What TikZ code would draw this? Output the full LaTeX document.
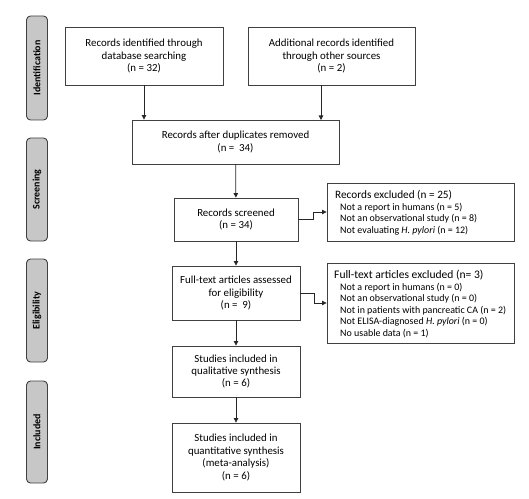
\documentclass[tikz,border=0pt]{standalone}
\usepackage{fontspec}
\setmainfont{Carlito}
\usetikzlibrary{positioning,arrows.meta}

\begin{document}
\begin{tikzpicture}[
    x=1bp, y=-1bp,
    box/.style={draw=black!75, line width=0.9bp, inner sep=0pt, align=center,
      font=\fontsize{10.9}{12.5}\selectfont},
    phase/.style={draw=black!75, line width=0.9bp, rounded corners=4bp, fill=black!22,
      minimum width=21bp, inner sep=0pt, font=\bfseries\fontsize{10}{11}\selectfont},
    arr/.style={-{Triangle[length=4.5bp,width=4.5bp]}, line width=0.8bp, draw=black!85}
]
\useasboundingbox (0,0) rectangle (529,499);

% phase labels
\node[phase, minimum height=104bp] (Pid) at (37,68) {\rotatebox{90}{Identification}};
\node[phase, minimum height=103bp] (Psc) at (37,189.5) {\rotatebox{90}{Screening}};
\node[phase, minimum height=103bp] (Pel) at (37,310.5) {\rotatebox{90}{Eligibility}};
\node[phase, minimum height=102bp] (Pin) at (37,432) {\rotatebox{90}{Included}};

% main boxes
\node[box, minimum width=158bp, minimum height=58bp] (db) at (144,56)
  {Records identified through\\database searching\\(n = 32)};
\node[box, minimum width=167bp, minimum height=58bp] (other) at (331.5,56)
  {Additional records identified\\through other sources\\(n = 2)};
\node[box, minimum width=207bp, minimum height=44bp] (dup) at (235.5,142)
  {Records after duplicates removed\\(n =\ \ 34)};
\node[box, minimum width=124bp, minimum height=43bp] (scr) at (236,219.5)
  {Records screened\\(n = 34)};
\node[box, minimum width=128bp, minimum height=54bp] (full) at (236,293)
  {Full-text articles assessed\\for eligibility\\(n =\ \ 9)};
\node[box, minimum width=128bp, minimum height=51bp] (qual) at (236,371.5)
  {Studies included in\\qualitative synthesis\\(n = 6)};
\node[box, minimum width=128bp, minimum height=69bp] (quant) at (236,457.5)
  {Studies included in\\quantitative synthesis\\(meta-analysis)\\(n = 6)};

% exclusion boxes
\node[box, minimum width=187bp, minimum height=58bp] (ex1) at (420.5,212) {};
\node[anchor=north west, inner sep=0pt, align=left, font=\fontsize{10}{11.8}\selectfont]
  (ex1txt) at (335,190)
  {{\fontsize{11.3}{11.8}\selectfont Records excluded (n = 25)}\\
   \hspace*{5bp}Not a report in humans (n = 5)\\
   \hspace*{5bp}Not an observational study (n = 8)\\
   \hspace*{5bp}Not evaluating \textit{H. pylori} (n = 12)};
\node[box, minimum width=187bp, minimum height=80bp] (ex2) at (420.5,303) {};
\node[anchor=north west, inner sep=0pt, align=left, font=\fontsize{10}{11.6}\selectfont]
  (ex2txt) at (334,270)
  {{\fontsize{11.6}{13}\selectfont Full-text articles excluded (n= 3)}\\
   \hspace*{6bp}Not a report in humans (n = 0)\\
   \hspace*{6bp}Not an observational study (n = 0)\\
   \hspace*{6bp}Not in patients with pancreatic CA (n = 2)\\
   \hspace*{6bp}Not ELISA-diagnosed \textit{H. pylori} (n = 0)\\
   \hspace*{6bp}No usable data (n = 1)};

% connectors
\draw[arr] (db.south) -- (db.south |- dup.north);
\draw[arr] (other.south -| 321,0) -- (321,120);
\draw[arr] (dup) -- (scr);
\draw[arr] (scr) -- (full);
\draw[arr] (full) -- (qual);
\draw[arr] (qual) -- (quant);
\draw[arr] (scr.east) -- ++(15,0) |- (ex1.west);
\draw[arr] (full.east) -- ++(14,0) |- (ex2.west);
\end{tikzpicture}
\end{document}
